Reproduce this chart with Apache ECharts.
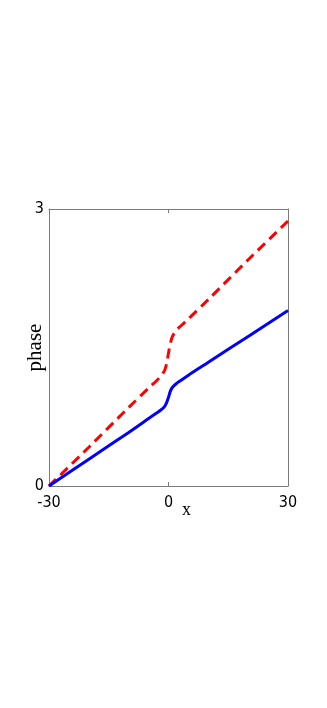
<!DOCTYPE html>
<html>
<head>
<meta charset="utf-8">
<script src="https://cdn.jsdelivr.net/npm/echarts@6/dist/echarts.min.js"></script>
<style>
  html, body { margin: 0; padding: 0; background: #fff; }
  #chart-container { width: 327px; height: 708px; }
</style>
</head>
<body>
<div id="chart-container"></div>
<script>
// values
var blueX = [-30, -20, -10, -5, -3, -2, -1, -0.5, 0, 0.5, 1, 2, 3, 5, 10, 20, 30];
var blueY = [0, 0.29, 0.58, 0.73, 0.79, 0.82, 0.86, 0.90, 0.96, 1.03, 1.07, 1.11, 1.14, 1.20, 1.34, 1.62, 1.90];
var redX = [-30, -20, -10, -5, -3, -2, -1, -0.5, 0, 0.5, 1, 2, 3, 5, 10, 20, 30];
var redY = [0, 0.42, 0.85, 1.06, 1.14, 1.19, 1.25, 1.32, 1.44, 1.55, 1.62, 1.69, 1.73, 1.81, 2.02, 2.45, 2.87];

var xTicks = [-30, 0, 30];
var yTicks = [0, 3];

function pairs(xs, ys) {
    return xs.map(function (x, i) { return [x, ys[i]]; });
}

var dom = document.getElementById('chart-container');
var myChart = echarts.init(dom, null, { renderer: 'canvas' });

var frame = { show: true, onZero: false, lineStyle: { color: '#7a7a7a', width: 1 } };
var tickFont = { fontFamily: '"DejaVu Sans Condensed", "Liberation Sans", sans-serif', fontSize: 16, color: '#000' };

var option = {
    backgroundColor: '#fff',
    animation: false,
    grid: { left: 49, right: 39, top: 209, bottom: 222 },
    xAxis: [
        {
            type: 'value', min: xTicks[0], max: xTicks[2], interval: 30,
            position: 'bottom',
            axisLine: frame,
            axisTick: { show: true, inside: true, length: 4, lineStyle: { color: '#7a7a7a' } },
            splitLine: { show: false },
            axisLabel: Object.assign({ margin: 9 }, tickFont),
            name: 'x', nameLocation: 'middle', nameGap: 15, nameMoveOverlap: false,
            nameTextStyle: { fontFamily: 'Liberation Serif', fontSize: 18, color: '#000', padding: [0, 0, 0, 36] }
        },
        {
            type: 'value', min: xTicks[0], max: xTicks[2], interval: 30,
            position: 'top',
            axisLine: frame,
            axisTick: { show: true, inside: true, length: 4, lineStyle: { color: '#7a7a7a' } },
            splitLine: { show: false },
            axisLabel: { show: false }
        }
    ],
    yAxis: [
        {
            type: 'value', min: yTicks[0], max: yTicks[1], interval: 3,
            position: 'left',
            axisLine: frame,
            axisTick: { show: false },
            splitLine: { show: false },
            axisLabel: Object.assign({ margin: 5 }, tickFont),
            name: 'phase', nameLocation: 'middle', nameRotate: 90, nameGap: 3, nameMoveOverlap: false,
            nameTextStyle: { fontFamily: 'Liberation Serif', fontSize: 21, color: '#000' }
        },
        {
            type: 'value', min: yTicks[0], max: yTicks[1], interval: 3,
            position: 'right',
            axisLine: frame,
            axisTick: { show: false },
            splitLine: { show: false },
            axisLabel: { show: false }
        }
    ],
    series: [
        {
            name: 'red', type: 'line', smooth: 0.3, showSymbol: false,
            data: pairs(redX, redY),
            lineStyle: { color: '#ff0000', width: 3, type: [10, 6] },
            z: 2
        },
        {
            name: 'blue', type: 'line', smooth: 0.3, showSymbol: false,
            data: pairs(blueX, blueY),
            lineStyle: { color: '#0000ff', width: 3 },
            z: 3
        }
    ]
};

myChart.setOption(option);
window.addEventListener('resize', myChart.resize);
</script>
</body>
</html>
